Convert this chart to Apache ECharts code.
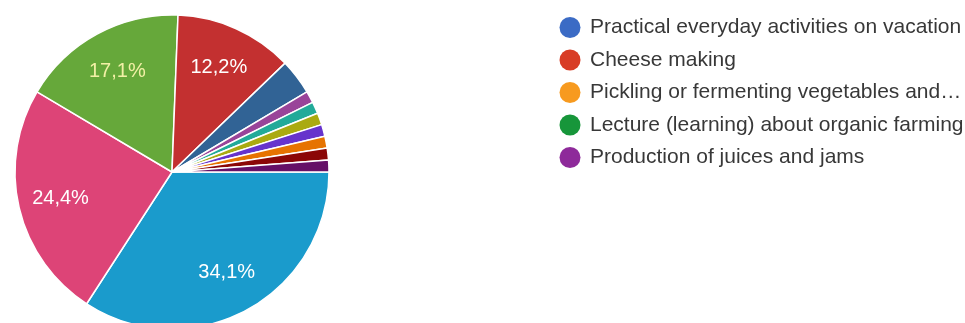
<!DOCTYPE html>
<html><head><meta charset="utf-8">
<script src="https://cdn.jsdelivr.net/npm/echarts@6/dist/echarts.min.js"></script>
<style>html,body{margin:0;padding:0;background:#fff}#c{width:965px;height:323px}</style>
</head><body><div id="c"></div>
<script>
// Pie slices, clockwise from 3 o'clock (response counts)
const sliceNames = ['Option A','Option B','Option C','Option D','Option E','Option F','Option G','Option H','Option I','Option J','Option K','Option L'];
const sliceValues = [28, 20, 14, 10, 3, 1, 1, 1, 1, 1, 1, 1];
const sliceColors = ['#1a9bcc','#dd4477','#66a83a','#c33030','#316395','#994499','#22aa99','#aaaa11','#6633cc','#e67300','#8b0707','#651067'];
// Legend (first page)
const legendNames = ['Practical everyday activities on vacation','Cheese making','Pickling or fermenting vegetables and…','Lecture (learning) about organic farming','Production of juices and jams'];
const legendColors = ['#3b6bc5','#d83c25','#f79a1f','#17963a','#8e2a9a'];
const labelColors = ['#ffffff','#ffffff','#f2f0a6','#ffffff'];

const total = sliceValues.reduce((a,b)=>a+b,0);
const chart = echarts.init(document.getElementById('c'), null, {renderer:'canvas'});
const center = [172, 172];
const R = 157;
chart.setOption({
  animation: false,
  legend: {
    orient: 'vertical', left: 554.5, top: 12, itemGap: 11.5,
    icon: 'circle', itemWidth: 21, itemHeight: 21,
    data: legendNames,
    textStyle: {fontFamily: 'Liberation Sans, Arial, sans-serif', fontSize: 21, lineHeight: 21, color: '#383838', padding: [0,0,0,4.5]},
    selectedMode: false
  },
  series: [
    {
      type: 'pie', center: center, radius: [0, R], startAngle: 0, clockwise: true,
      silent: true, label: {show: false}, labelLine: {show: false},
      itemStyle: {borderColor: '#fff', borderWidth: 1.5},
      data: sliceNames.map((n,i)=>({name:n, value:sliceValues[i], itemStyle:{color:sliceColors[i]}}))
    },
    {
      type: 'pie', center: center, radius: [R*0.42, R], startAngle: 0, clockwise: true,
      silent: true, labelLine: {show: false},
      itemStyle: {color: 'rgba(0,0,0,0)', borderWidth: 0},
      label: {
        show: true, position: 'inside',
        fontFamily: 'Liberation Sans, Arial, sans-serif', fontSize: 20,
        formatter: p => p.value / total >= 0.05 ? (p.value/total*100).toFixed(1).replace('.', ',') + '%' : ''
      },
      data: sliceNames.map((n,i)=>({name:n+' ', value:sliceValues[i], label:{color: labelColors[i] || '#fff'}}))
    },
    {
      type: 'pie', center: center, radius: [0, 0], silent: true,
      label: {show: false}, labelLine: {show: false},
      data: legendNames.map((n,i)=>({name:n, value:1, itemStyle:{color:legendColors[i]}}))
    }
  ]
});
</script></body></html>
